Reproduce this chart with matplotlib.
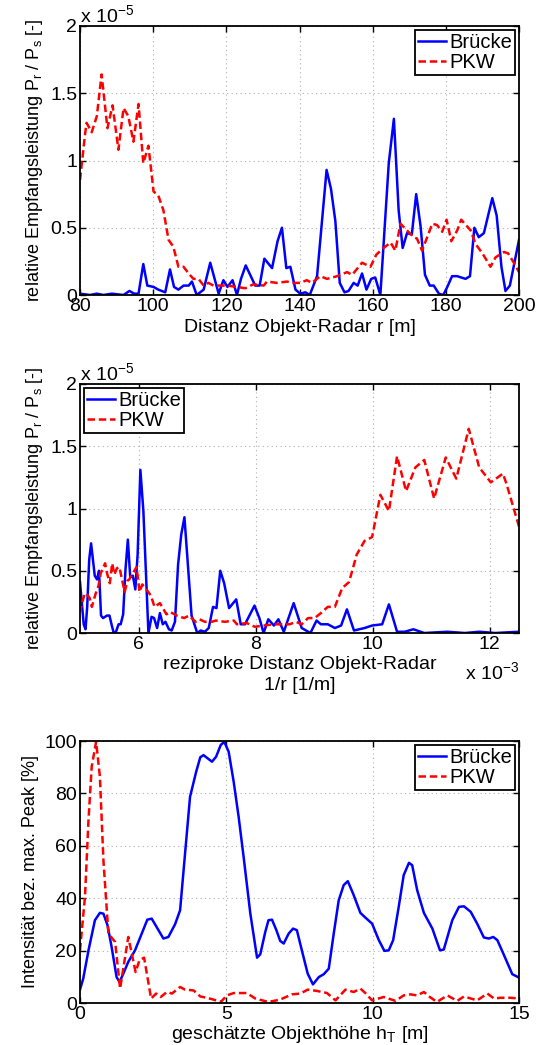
import numpy as np
import matplotlib
matplotlib.use("Agg")
import matplotlib.pyplot as plt

plt.rcParams['font.family'] = ['Liberation Sans', 'DejaVu Sans']
plt.rcParams['font.size'] = 14
plt.rcParams['mathtext.fontset'] = 'custom'
plt.rcParams['mathtext.rm'] = 'Liberation Sans'
plt.rcParams['mathtext.it'] = 'Liberation Sans'

# Brücke: Distanz r [m] und Empfangsleistung [x 1e-5]
r_bruecke = [80, 82.7, 84.6, 86.4, 88.7, 91.9, 93.5, 94.8, 96, 97.3, 98.4, 100.1, 101.4, 103.3,
             104.6, 105.7, 106.9, 108.3, 109.7, 110.6, 111.9, 113.8, 115.6, 117.9, 119.2, 120.3,
             121.7, 122.9, 124, 125.3, 127.9, 129.1, 130.4, 132.5, 134, 135.2, 136.4, 137.5,
             138.9, 140.2, 141.6, 142.8, 144.8, 147.4, 148.6, 149.8, 151, 152.3, 153.4, 154.8,
             155.9, 157.1, 158.3, 159.6, 160.7, 162.1, 164.4, 165.8, 167.1, 168.2, 169.4, 170.7,
             171.9, 173.1, 174.3, 175.6, 176.7, 178.1, 179.3, 180.4, 181.7, 183.1, 185.4, 186.6,
             187.8, 189, 190.4, 192.7, 193.9, 195.2, 196.3, 197.5, 200]
p_bruecke = [0.01, 0, 0.01, 0, 0.01, 0, 0.03, 0.01, 0.01, 0.23, 0.07, 0.06, 0.04, 0.02,
             0.19, 0.06, 0.04, 0.07, 0.07, 0.10, 0, 0.04, 0.24, 0.01, 0.11, 0.06,
             0.11, 0, 0.12, 0.22, 0.07, 0.07, 0.27, 0.20, 0.40, 0.50, 0.20, 0.21,
             0.04, 0.01, 0.02, 0, 0.14, 0.93, 0.79, 0.55, 0.09, 0.02, 0.03, 0.09,
             0.07, 0.16, 0.04, 0.12, 0.13, 0, 0.98, 1.31, 0.63, 0.35, 0.46, 0.45,
             0.75, 0.51, 0.15, 0.07, 0.07, 0.01, 0, 0.06, 0.14, 0.14, 0.12, 0.14,
             0.50, 0.43, 0.46, 0.72, 0.59, 0.21, 0.03, 0.07, 0.41]

# PKW: Distanz r [m] und Empfangsleistung [x 1e-5]
r_pkw = [80, 81.4, 81.8, 83.2, 84.6, 85.9, 87.5, 88.9, 90.5, 91.9, 93.2, 94.6, 96, 97.3, 98.7,
         100.1, 101.4, 102.8, 104.2, 105.5, 106.9, 108.3, 109.7, 111, 112.4, 113.8, 115.1,
         116.5, 120.1, 122.9, 125.2, 127.4, 130.2, 131.1, 133.8, 136.6, 137.9, 140.2, 142,
         143.4, 145.7, 147.5, 150.3, 153, 154.4, 157.1, 159.4, 161, 163, 164.9, 166.2, 167.6,
         169.4, 171.2, 172.1, 173.5, 174.9, 176.3, 177.6, 179, 180.2, 181.5, 183.1, 184.2,
         186.8, 188.1, 190, 192.2, 193.6, 195.9, 197, 198.6, 200]
p_pkw = [0.855, 1.20, 1.28, 1.21, 1.33, 1.64, 1.24, 1.41, 1.08, 1.39, 1.33, 1.14, 1.42, 0.98, 1.11,
         0.77, 0.74, 0.63, 0.41, 0.36, 0.21, 0.21, 0.16, 0.12, 0.12, 0.07, 0.09,
         0.07, 0.07, 0.06, 0.05, 0.08, 0.07, 0.10, 0.09, 0.10, 0.09, 0.09, 0.11,
         0.09, 0.14, 0.12, 0.14, 0.17, 0.15, 0.24, 0.21, 0.30, 0.35, 0.39, 0.33, 0.53,
         0.48, 0.43, 0.42, 0.33, 0.43, 0.53, 0.52, 0.47, 0.56, 0.40, 0.48, 0.56,
         0.48, 0.38, 0.31, 0.21, 0.28, 0.32, 0.31, 0.24, 0.17]

# geschätzte Objekthöhe h_T [m] und Intensität [%]
h_bruecke = [0, 0.11, 0.29, 0.51, 0.68, 0.8, 0.94, 1.08, 1.25, 1.35, 1.48, 1.65, 1.88, 2.11, 2.3,
             2.45, 2.65, 2.85, 3.02, 3.25, 3.42, 3.59, 3.76, 3.97, 4.11, 4.22, 4.36, 4.51, 4.65,
             4.81, 4.93, 5.08, 5.25, 5.42, 5.59, 5.82, 6.05, 6.16, 6.33, 6.44, 6.56, 6.71, 6.84,
             6.96, 7.13, 7.28, 7.41, 7.58, 7.78, 7.96, 8.16, 8.33, 8.5, 8.67, 8.84, 9.01, 9.15,
             9.33, 9.58, 9.75, 9.98, 10.21, 10.4, 10.55, 10.7, 10.89, 11.06, 11.24, 11.35, 11.52,
             11.75, 12.04, 12.3, 12.43, 12.72, 12.95, 13.12, 13.35, 13.57, 13.8, 13.97, 14.12,
             14.26, 14.49, 14.77, 15]
i_bruecke = [5.1, 9.3, 20.1, 31.6, 34.4, 34.1, 29.7, 21.4, 9.9, 8.0, 11.2, 15.7, 20.1, 26.5, 31.8,
             32.2, 28.4, 24.6, 25.2, 30.1, 35.4, 57.1, 78.7, 88.3, 93.8, 94.6, 93.4, 92.1, 94.0,
             98.5, 99.7, 95.9, 84.5, 71.1, 55.8, 34.1, 17.3, 18.6, 27.1, 31.6, 31.8, 27.8, 23.7,
             22.7, 26.5, 28.4, 27.8, 20.1, 11.2, 7.1, 9.9, 11.0, 13.1, 26.5, 39.2, 45.0, 46.5,
             41.8, 34.4, 32.6, 30.3, 24.0, 19.9, 20.1, 24.0, 36.7, 48.8, 53.5, 52.6, 43.1,
             34.4, 28.4, 20.1, 20.4, 31.6, 36.7, 36.9, 34.8, 30.3, 25.0, 24.6, 25.2,
             24.0, 18.2, 11.0, 9.7]
h_pkw = [0, 0.17, 0.29, 0.4, 0.55, 0.68, 0.8, 0.97, 1.2, 1.37, 1.65, 1.9, 2.03, 2.19, 2.43, 2.6,
         2.76, 2.97, 3.14, 3.42, 3.59, 3.88, 4.11, 4.33, 4.56, 4.81, 5.02, 5.25, 5.7, 5.99, 6.44,
         6.84, 7.24, 7.53, 7.78, 8.1, 8.44, 8.73, 9.07, 9.35, 9.58, 9.75, 9.98, 10.38, 10.78,
         11.06, 11.29, 11.52, 11.75, 11.95, 12.2, 12.55, 12.89, 13.12, 13.57, 13.92, 14.15,
         14.37, 14.71, 15]
i_pkw = [20.1, 40.5, 69.8, 90.2, 99.7, 86.4, 54.5, 26.5, 23.3, 5.5, 25.2, 11.8, 16.3, 17.3, 1.7, 3.6,
         2.3, 4.2, 3.6, 6.1, 5.1, 4.8, 2.5, 2.0, 1.3, 0.4, 2.9, 3.8, 3.8, 1.7, 0.4,
         1.3, 3.3, 3.6, 5.1, 4.6, 3.8, 1.0, 5.1, 4.2, 5.5, 3.8, 1.0, 2.3, 0.8,
         2.9, 3.3, 2.9, 4.2, 2.3, 0.4, 2.9, 0.8, 2.5, 1.0, 3.6, 1.7,
         2.0, 2.0, 1.7]

W, H = 539, 1045
fig = plt.figure(figsize=(W / 100, H / 100), dpi=100)


def make_axes(top, bottom):
    ax = fig.add_axes([80 / W, (H - bottom) / H, 439 / W, (bottom - top) / H])
    ax.grid(True, linestyle=(0, (1, 3)), color='#b0b0b0', linewidth=0.8)
    ax.tick_params(direction='in', top=True, right=True, length=4, width=1,
                   pad=2, labelsize=14)
    for s in ax.spines.values():
        s.set_linewidth(1.3)
    return ax


def style_legend(ax, loc):
    leg = ax.legend(loc=loc, fancybox=False, framealpha=1, edgecolor='black',
                    fontsize=14.5, handlelength=1.4, handletextpad=0.15,
                    borderpad=0.15, labelspacing=0.05, borderaxespad=0.2)
    leg.get_frame().set_linewidth(1.3)


# Panel 1
ax1 = make_axes(26, 295)
ax1.plot(r_bruecke, p_bruecke, color='#0000ff', lw=1.8, label='Brücke')
ax1.plot(r_pkw, p_pkw, color='#ff0000', lw=1.8, ls=(0, (3, 1.5)), label='PKW')
ax1.set_xlim(80, 200)
ax1.set_ylim(0, 2)
ax1.set_xticks([80, 100, 120, 140, 160, 180, 200])
ax1.set_yticks([0, 0.5, 1, 1.5, 2])
ax1.set_yticklabels(['0', '0.5', '1', '1.5', '2'])
ax1.set_xlabel('Distanz Objekt-Radar r [m]', labelpad=3)
ax1.set_ylabel('relative Empfangsleistung P$_r$ / P$_s$ [-]', labelpad=4, fontsize=13)
ax1.text(0.0, 1.0, 'x 10$^{-5}$', transform=ax1.transAxes, ha='left', va='bottom')
style_legend(ax1, 'upper right')

# Panel 2
ax2 = make_axes(384, 633)
ax2.plot(1e3 / np.array(r_bruecke), p_bruecke, color='#0000ff', lw=1.8, label='Brücke')
ax2.plot(1e3 / np.array(r_pkw), p_pkw, color='#ff0000', lw=1.8, ls=(0, (3, 1.5)), label='PKW')
ax2.set_xlim(5, 12.5)
ax2.set_ylim(0, 2)
ax2.set_xticks([6, 8, 10, 12])
ax2.set_yticks([0, 0.5, 1, 1.5, 2])
ax2.set_yticklabels(['0', '0.5', '1', '1.5', '2'])
ax2.set_xlabel('reziproke Distanz Objekt-Radar\n1/r [1/m]', labelpad=2, linespacing=1.35)
ax2.set_ylabel('relative Empfangsleistung P$_r$ / P$_s$ [-]', labelpad=4, fontsize=13)
ax2.text(0.0, 1.0, 'x 10$^{-5}$', transform=ax2.transAxes, ha='left', va='bottom')
ax2.text(1.0, -0.115, 'x 10$^{-3}$', transform=ax2.transAxes, ha='right', va='top')
style_legend(ax2, 'upper left')

# Panel 3
ax3 = make_axes(741, 1003)
ax3.plot(h_bruecke, i_bruecke, color='#0000ff', lw=1.8, label='Brücke')
ax3.plot(h_pkw, i_pkw, color='#ff0000', lw=1.8, ls=(0, (3, 1.5)), label='PKW')
ax3.set_xlim(0, 15)
ax3.set_ylim(0, 100)
ax3.set_xticks([0, 5, 10, 15])
ax3.set_yticks([0, 20, 40, 60, 80, 100])
ax3.set_xlabel('geschätzte Objekthöhe h$_T$ [m]', labelpad=1)
ax3.set_ylabel('Intensität bez. max. Peak [%]', labelpad=4, fontsize=13)
style_legend(ax3, 'upper right')

fig.savefig('out.png', dpi=100)
